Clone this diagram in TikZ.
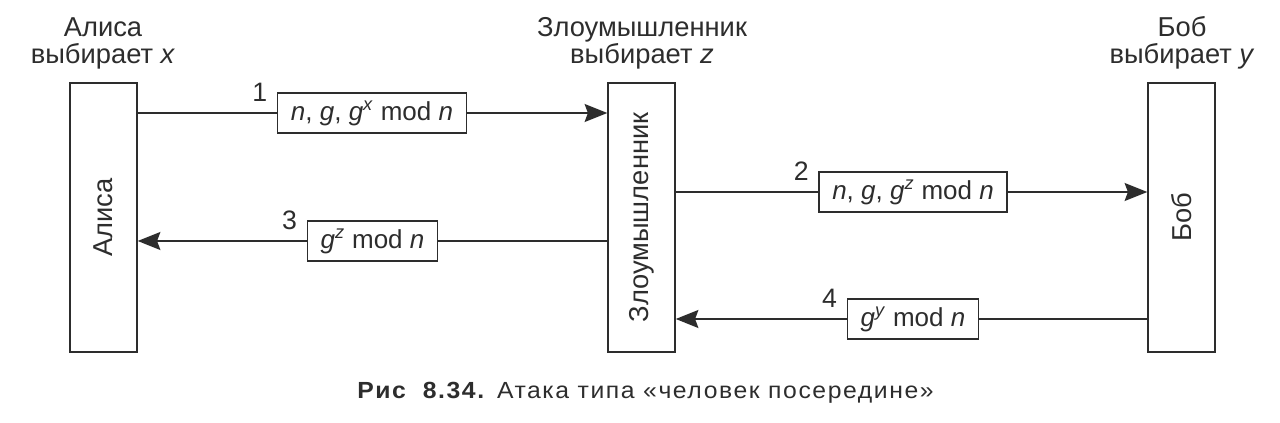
\documentclass[tikz,border=0pt]{standalone}
\usepackage{fontspec}
\setmainfont{Liberation Sans}
\usetikzlibrary{arrows.meta}
\definecolor{ink}{RGB}{45,45,45}
\begin{document}
\begin{tikzpicture}[x=0.75pt,y=-0.75pt,
  every node/.style={text=ink},
  party/.style={draw=ink,line width=1.1pt,minimum width=50.25pt,minimum height=201.5pt,inner sep=0pt},
  plabel/.style={rotate=90,font=\fontsize{20.5}{24}\selectfont},
  msg/.style={draw=ink,line width=1.1pt,fill=white,minimum height=30pt,inner xsep=10pt,inner ysep=2pt,font=\fontsize{19.5}{22}\selectfont},
  num/.style={font=\fontsize{20}{22}\selectfont,inner sep=0pt,anchor=base east,xshift=-7pt,yshift=8.5pt},
  title/.style={font=\fontsize{20.5}{24}\selectfont,anchor=base,inner sep=0pt},
  arr/.style={draw=ink,line width=1.1pt,-{Stealth[length=17pt,width=13.5pt,inset=2.5pt]}}]
\useasboundingbox (0,0) rectangle (1280,423);
\node[party] (alice) at (103.5,217.5) {};
\node[party] (att) at (641.5,217.5) {};
\node[party] (bob) at (1181.5,217.5) {};
\node[plabel] (la) at (alice) {Алиса};
\node[plabel] (lz) at (att) {Злоумышленник};
\node[plabel] (lb) at (bob) {Боб};
\node[title] (ta1) at (103,37) {Алиса};
\node[title] (ta2) at (103,64) {выбирает \textit{x}};
\node[title] (tz1) at (642,37) {Злоумышленник};
\node[title] (tz2) at (642,64) {выбирает \textit{z}};
\node[title] (tb1) at (1182,37) {Боб};
\node[title] (tb2) at (1182,64) {выбирает \textit{y}};
% message 1
\coordinate (m1) at (372,113);
\draw[arr] (alice.east |- m1) -- (att.west |- m1);
\node[msg] (b1) at (m1) {\textit{n}, \textit{g}, \textit{g}\textsuperscript{\textit{x}} mod \textit{n}};
\node[num] (n1) at (b1.west) {1};
% message 2
\coordinate (m2) at (913,192);
\draw[arr] (att.east |- m2) -- (bob.west |- m2);
\node[msg] (b2) at (m2) {\textit{n}, \textit{g}, \textit{g}\textsuperscript{\textit{z}} mod \textit{n}};
\node[num] (n2) at (b2.west) {2};
% message 3
\coordinate (m3) at (372.5,241);
\draw[arr] (att.west |- m3) -- (alice.east |- m3);
\node[msg] (b3) at (m3) {\textit{g}\textsuperscript{\textit{z}} mod \textit{n}};
\node[num] (n3) at (b3.west) {3};
% message 4
\coordinate (m4) at (913,319);
\draw[arr] (bob.west |- m4) -- (att.east |- m4);
\node[msg] (b4) at (m4) {\textit{g}\textsuperscript{\textit{y}} mod \textit{n}};
\node[num] (n4) at (b4.west) {4};
% caption
\node[font=\fontsize{17.5}{20}\selectfont\addfontfeatures{LetterSpace=6.4},anchor=base west,inner sep=0pt] (cap) at (357,398) {\scalebox{1.06}[1]{\textbf{Рис\ \ 8.34.} Атака типа «человек посередине»}};
\end{tikzpicture}
\end{document}
